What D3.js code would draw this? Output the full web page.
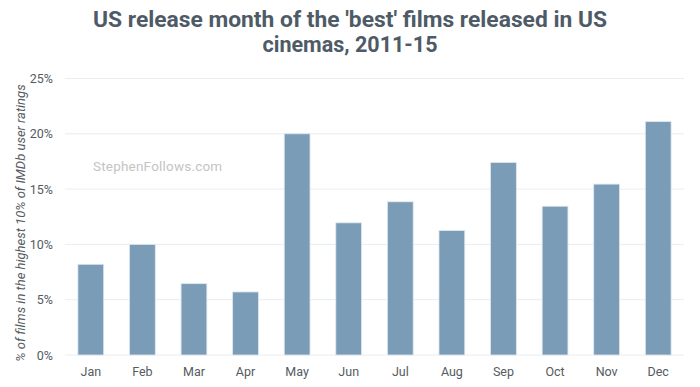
<!DOCTYPE html>
<html>
<head>
<meta charset="utf-8">
<script src="https://cdn.jsdelivr.net/npm/d3@7"></script>
<style>
  body { margin: 0; background: #fff; }
  svg { display: block; }
</style>
</head>
<body>
<script>
// data
const months = ["Jan", "Feb", "Mar", "Apr", "May", "Jun", "Jul", "Aug", "Sep", "Oct", "Nov", "Dec"]
const share = [8.2, 10.0, 6.45, 5.7, 20.0, 11.95, 13.85, 11.25, 17.4, 13.45, 15.45, 21.1]
const yTicks = [0, 5, 10, 15, 20, 25]

const width = 700
const height = 387
const margin = { top: 78.5, right: 16, bottom: 32, left: 65 }

const svg = d3.select("body")
    .append("svg")
    .attr("width", width)
    .attr("height", height)

const x = d3.scaleBand()
    .domain(months)
    .range([margin.left, width - margin.right])
    .paddingInner(0.5)
    .paddingOuter(0.25)

const y = d3.scaleLinear()
    .domain([0, 25])
    .range([height - margin.bottom, margin.top])

// grid lines
svg.append("g")
    .selectAll("line")
    .data(yTicks)
    .join("line")
    .attr("x1", margin.left)
    .attr("x2", width - margin.right)
    .attr("y1", d => y(d))
    .attr("y2", d => y(d))
    .attr("stroke", "#e9ecf1")
    .attr("stroke-width", 1)

// y axis
const yAxis = d3.axisLeft(y)
    .tickValues(yTicks)
    .tickSize(0)
    .tickPadding(12)
    .tickFormat(d => d + "%")

svg.append("g")
    .attr("transform", `translate(${margin.left},0)`)
    .call(yAxis)
    .call(g => g.select(".domain").remove())
    .call(g => g.selectAll("text")
        .attr("fill", "#555b61")
        .style("font-family", "Roboto")
        .style("font-size", "12.5px"))

// x axis
const xAxis = d3.axisBottom(x).tickSize(0).tickPadding(12)

svg.append("g")
    .attr("transform", `translate(0,${height - margin.bottom})`)
    .call(xAxis)
    .call(g => g.select(".domain").remove())
    .call(g => g.selectAll("text")
        .attr("fill", "#555b61")
        .style("font-family", "Roboto")
        .style("font-size", "12.5px"))

// watermark
svg.append("text")
    .attr("x", 93)
    .attr("y", 171)
    .attr("fill", "#c4c4c4")
    .style("font-family", "Roboto")
    .style("font-size", "13.5px")
    .style("letter-spacing", "0.2px")
    .text("StephenFollows.com")

// bars
svg.append("g")
    .selectAll("rect")
    .data(months)
    .join("rect")
    .attr("x", d => x(d))
    .attr("y", (d, i) => y(share[i]))
    .attr("width", x.bandwidth())
    .attr("height", (d, i) => y(0) - y(share[i]))
    .attr("fill", "#7a9cb7")
    .attr("stroke", "#dfe7ee")
    .attr("stroke-width", 0.8)

// y label
svg.append("text")
    .attr("transform", "translate(25,223) rotate(-90)")
    .attr("text-anchor", "middle")
    .attr("fill", "#555b61")
    .style("font-family", "Roboto")
    .style("font-style", "italic")
    .style("font-size", "13px")
    .text("% of films in the highest 10% of IMDb user ratings")

// title
const title = svg.append("g")
    .attr("fill", "#4e5b67")
    .style("font-family", "Roboto")
    .style("font-weight", "bold")
    .style("font-size", "22.5px")

title.append("text")
    .attr("x", 350)
    .attr("y", 27)
    .attr("text-anchor", "middle")
    .attr("textLength", 514)
    .attr("lengthAdjust", "spacingAndGlyphs")
    .text("US release month of the 'best' films released in US")

title.append("text")
    .attr("x", 350)
    .attr("y", 52)
    .attr("text-anchor", "middle")
    .attr("textLength", 175)
    .attr("lengthAdjust", "spacingAndGlyphs")
    .text("cinemas, 2011-15")
</script>
</body>
</html>
